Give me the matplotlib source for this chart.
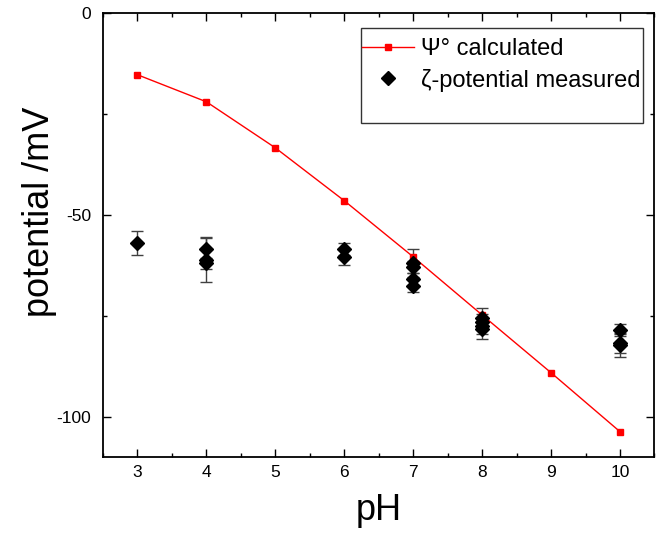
import matplotlib
matplotlib.use("Agg")
import matplotlib.pyplot as plt
from matplotlib.ticker import MultipleLocator
from matplotlib.patches import Rectangle

plt.rcParams['font.family'] = ['Liberation Sans', 'DejaVu Sans']
plt.rcParams['axes.unicode_minus'] = False

# Calculated surface potential
ph_calc = [3, 4, 5, 6, 7, 8, 9, 10]
psi_calc = [-15.3, -22.0, -33.4, -46.5, -60.4, -74.8, -89.1, -103.7]

# Measured zeta potential
ph_meas = [3, 4, 4, 4, 6, 6, 7, 7, 7, 7, 8, 8, 8, 8, 10, 10, 10]
zeta_meas = [-57.0, -58.5, -61.2, -62.0, -58.5, -60.5, -62.0, -63.0, -66.0, -67.5,
             -75.5, -76.5, -77.5, -78.3, -78.5, -81.8, -82.3]
zeta_err = [3.0, 3.0, 5.5, 1.4, 1.5, 2.0, 3.5, 1.5, 1.5, 1.5,
            2.5, 2.0, 2.0, 2.5, 1.5, 2.5, 2.8]

fig = plt.figure(figsize=(6.62, 5.34), dpi=100)
ax = fig.add_axes([0.1556, 0.144, 0.833, 0.8317])

ax.plot(ph_calc, psi_calc, color='#ff0000', lw=1.0, marker='s', ms=4.5,
        label='Ψ° calculated', zorder=3)
ax.errorbar(ph_meas, zeta_meas, yerr=zeta_err, fmt='none', ecolor='#404040',
            elinewidth=1.0, capsize=4, capthick=1.0, zorder=2)
ax.plot(ph_meas, zeta_meas, linestyle='none', marker='D', ms=7.5, color='black',
        label='ζ-potential measured', zorder=4)

ax.set_xlim(2.5, 10.5)
ax.set_ylim(-110, 0)
ax.xaxis.set_major_locator(MultipleLocator(1))
ax.xaxis.set_minor_locator(MultipleLocator(0.5))
ax.yaxis.set_major_locator(MultipleLocator(50))
ax.yaxis.set_minor_locator(MultipleLocator(25))
ax.tick_params(which='both', direction='in', top=True, right=True, labelsize=12.5, width=1.0)
ax.tick_params(which='major', length=6)
ax.tick_params(which='minor', length=3)
ax.tick_params(axis='x', which='major', pad=6)
ax.tick_params(axis='y', which='major', pad=8.5)
for s in ax.spines.values():
    s.set_linewidth(1.3)

ax.set_xlabel('pH', fontsize=26, labelpad=9)
ax.set_ylabel('potential /mV', fontsize=26)
ax.yaxis.set_label_coords(-0.083, 0.552)

# legend frame
ax.add_patch(Rectangle((0.4687, 0.752), 0.980 - 0.4687, 0.966 - 0.752,
                       transform=ax.transAxes, facecolor='white', edgecolor='#333333',
                       lw=1.0, zorder=5))
leg = ax.legend(loc='upper left', bbox_to_anchor=(0.470, 0.943), fontsize=17,
                frameon=False, borderaxespad=0, borderpad=0,
                handlelength=2.2, handletextpad=0.3, labelspacing=0.35)
leg.set_zorder(6)

fig.savefig('out.png', dpi=100)
